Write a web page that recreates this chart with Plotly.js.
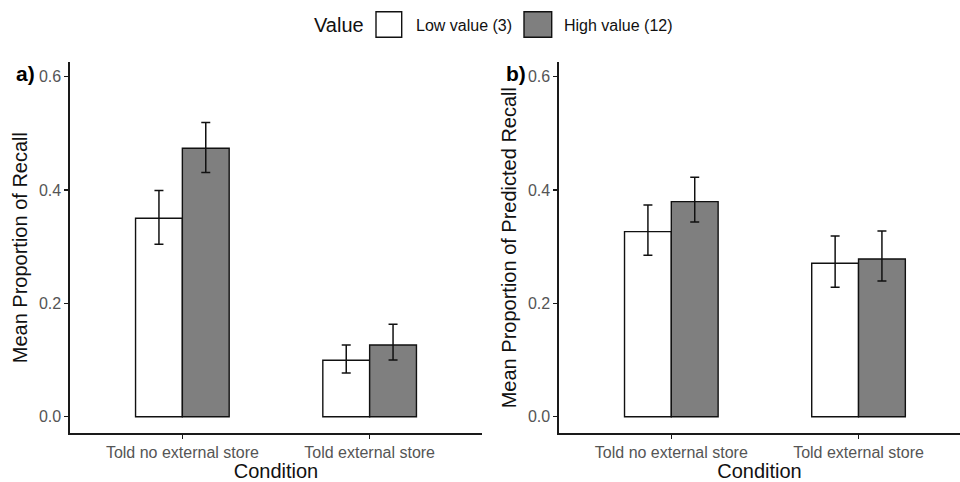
<!DOCTYPE html>
<html>
<head>
<meta charset="utf-8">
<script src="https://cdn.plot.ly/plotly-3.0.1.min.js"></script>
<style>html,body{margin:0;padding:0;background:#fff;}#chart{width:960px;height:482px;}</style>
</head>
<body>
<div id="chart"></div>
<script>
// ---- data ----
var conditions = ["Told no external store", "Told external store"];
var seriesNames = ["Low value (3)", "High value (12)"];
var legendTitle = "Value";

// Panel a: Mean Proportion of Recall
var recallLow = [0.350, 0.0995];
var recallLowErrUp = [0.049, 0.027];
var recallLowErrDown = [0.046, 0.0225];
var recallHigh = [0.4735, 0.1265];
var recallHighErrUp = [0.0455, 0.0365];
var recallHighErrDown = [0.043, 0.0265];

// Panel b: Mean Proportion of Predicted Recall
var predLow = [0.3264, 0.2706];
var predLowErrUp = [0.0471, 0.0482];
var predLowErrDown = [0.0417, 0.0423];
var predHigh = [0.3793, 0.2782];
var predHighErrUp = [0.0431, 0.0494];
var predHighErrDown = [0.0358, 0.0388];

var yTicks = [0, 0.2, 0.4, 0.6];
var panelLabels = ["a)", "b)"];
var yTitles = ["Mean Proportion of Recall", "Mean Proportion of Predicted Recall"];
var xTitle = "Condition";

// ---- styles ----
var FONT = "Liberation Sans, Arial, Helvetica, sans-serif";
var lowFill = "#ffffff", highFill = "#7f7f7f";
var outline = {color: "#111111", width: 1.4};

function barTrace(vals, up, down, fill, name, xa, ya) {
  return {
    type: "bar", x: conditions, y: vals, name: name,
    xaxis: xa, yaxis: ya, showlegend: false,
    marker: {color: fill, line: outline},
    error_y: {type: "data", symmetric: false, array: up, arrayminus: down,
              color: "#111111", thickness: 1.5, width: 4.5},
    hoverinfo: "x+y+name"
  };
}

var data = [
  barTrace(recallLow, recallLowErrUp, recallLowErrDown, lowFill, seriesNames[0], "x", "y"),
  barTrace(recallHigh, recallHighErrUp, recallHighErrDown, highFill, seriesNames[1], "x", "y"),
  barTrace(predLow, predLowErrUp, predLowErrDown, lowFill, seriesNames[0], "x2", "y2"),
  barTrace(predHigh, predHighErrUp, predHighErrDown, highFill, seriesNames[1], "x2", "y2")
];

var W = 960, H = 482;
function px(x) { return x / W; }
function py(y) { return 1 - y / H; }

var yDomain = [py(433.3), py(62)];
var yRange = [-0.0293, 0.6256];

function xAxis(domain, range, anchor) {
  return {
    domain: domain, anchor: anchor, type: "category", range: range,
    showline: true, linecolor: "#1a1a1a", linewidth: 1.6,
    ticks: "outside", ticklen: 4, tickcolor: "#1a1a1a", tickwidth: 1.4,
    tickfont: {family: FONT, size: 16, color: "#555555"},
    showgrid: false, zeroline: false, fixedrange: true,
    title: {text: xTitle, font: {family: FONT, size: 20, color: "#111111"}, standoff: 4}
  };
}
function yAxis(domain, anchor, title) {
  return {
    domain: domain, anchor: anchor, range: yRange,
    tickvals: yTicks, tickformat: ".1f",
    showline: true, linecolor: "#1a1a1a", linewidth: 1.6,
    ticks: "outside", ticklen: 4, tickcolor: "#1a1a1a", tickwidth: 1.4,
    tickfont: {family: FONT, size: 16, color: "#555555"},
    showgrid: false, zeroline: false, fixedrange: true,
    title: {text: title, font: {family: FONT, size: 20, color: "#111111"}, standoff: 6}
  };
}

var layout = {
  width: W, height: H,
  margin: {l: 0, r: 0, t: 0, b: 0},
  paper_bgcolor: "#ffffff", plot_bgcolor: "#ffffff",
  barmode: "group", bargap: 0.5, bargroupgap: 0,
  showlegend: false,
  font: {family: FONT},
  xaxis: xAxis([px(70), px(482)], [-0.6, 1.6], "y"),
  yaxis: yAxis(yDomain, "x", yTitles[0]),
  xaxis2: xAxis([px(559), 1], [-0.6, 1.542], "y2"),
  yaxis2: yAxis(yDomain, "x2", yTitles[1]),
  shapes: [
    {type: "rect", xref: "paper", yref: "paper", x0: px(376), x1: px(401.7), y0: py(37.3), y1: py(11.7),
     fillcolor: lowFill, line: {color: "#111111", width: 1.4}},
    {type: "rect", xref: "paper", yref: "paper", x0: px(524), x1: px(551.7), y0: py(37.3), y1: py(11.7),
     fillcolor: highFill, line: {color: "#111111", width: 1.4}}
  ],
  annotations: [
    {text: legendTitle, xref: "paper", yref: "paper", x: px(312), y: py(25), xanchor: "left", yanchor: "middle",
     showarrow: false, font: {family: FONT, size: 20, color: "#111111"}},
    {text: seriesNames[0], xref: "paper", yref: "paper", x: px(414), y: py(25), xanchor: "left", yanchor: "middle",
     showarrow: false, font: {family: FONT, size: 16, color: "#111111"}},
    {text: seriesNames[1], xref: "paper", yref: "paper", x: px(562), y: py(25), xanchor: "left", yanchor: "middle",
     showarrow: false, font: {family: FONT, size: 16, color: "#111111"}},
    {text: "<b>" + panelLabels[0] + "</b>", xref: "paper", yref: "paper", x: px(14), y: py(73), xanchor: "left", yanchor: "middle",
     showarrow: false, font: {family: FONT, size: 21, color: "#000000"}},
    {text: "<b>" + panelLabels[1] + "</b>", xref: "paper", yref: "paper", x: px(504), y: py(73), xanchor: "left", yanchor: "middle",
     showarrow: false, font: {family: FONT, size: 21, color: "#000000"}}
  ]
};

Plotly.newPlot("chart", data, layout, {displayModeBar: false, staticPlot: true});
</script>
</body>
</html>
